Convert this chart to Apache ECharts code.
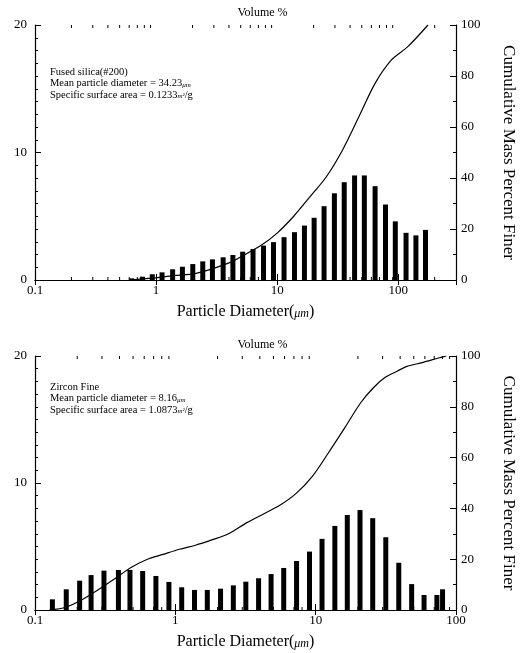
<!DOCTYPE html>
<html>
<head>
<meta charset="utf-8">
<script src="https://cdn.jsdelivr.net/npm/echarts@6/dist/echarts.min.js"></script>
<style>
  html, body { margin: 0; padding: 0; background: #fff; }
  #chart { width: 525px; height: 653px; }
</style>
</head>
<body>
<div id="chart"></div>
<script>
// fused silica (#200): diameter (um) / volume %
const topDiam = [0.63, 0.77, 0.93, 1.12, 1.37, 1.65, 2.01, 2.43, 2.92, 3.58, 4.31, 5.19, 6.32, 7.71, 9.33,
                 11.4, 13.9, 16.8, 20.2, 24.4, 29.7, 35.8, 43.6, 52.5, 64.4, 78.5, 94.6, 116, 140, 168];
const topVolume = [0.13, 0.26, 0.45, 0.6, 0.84, 1.04, 1.25, 1.46, 1.62, 1.78, 1.96, 2.22, 2.43, 2.7, 2.97,
                   3.36, 3.75, 4.27, 4.88, 5.79, 6.8, 7.67, 8.2, 8.2, 7.36, 5.92, 4.6, 3.7, 3.5, 3.93];
// cumulative mass percent finer
const topCumDiam = [0.62, 0.93, 1.39, 2.14, 3.95, 5.42, 7.43, 10, 13.7, 18.7, 25.5, 34.7, 47.3, 64.4, 87.9, 120, 176];
const topCum = [0, 0.7, 1.7, 2.6, 6.6, 10, 13.7, 18.4, 25, 32.7, 40.5, 51, 64, 77.1, 86.3, 91.5, 100];

// zircon fine
const botDiam = [0.133, 0.167, 0.208, 0.251, 0.31, 0.393, 0.475, 0.585, 0.727, 0.9, 1.11, 1.37, 1.69, 2.1, 2.59, 3.18,
                 3.92, 4.81, 5.92, 7.31, 9.04, 11.1, 13.7, 16.8, 20.7, 25.5, 31.6, 39.1, 48.3, 59.2, 73.1, 80.2];
const botVolume = [0.84, 1.63, 2.31, 2.75, 3.1, 3.15, 3.15, 3.07, 2.68, 2.21, 1.79, 1.58, 1.58, 1.68, 1.94, 2.23,
                   2.5, 2.83, 3.31, 3.86, 4.6, 5.6, 6.62, 7.48, 7.87, 7.23, 5.73, 3.72, 2.04, 1.18, 1.18, 1.63];
const botCumDiam = [0.127, 0.166, 0.216, 0.282, 0.368, 0.48, 0.627, 0.818, 1.07, 1.39, 1.82, 2.37, 3.26, 4.25,
                    5.55, 7.23, 9.44, 12.3, 16.1, 21.0, 25.9, 31.3, 38, 44.2, 57.5, 75.2, 85.3];
const botCum = [0, 1.1, 4.0, 8.0, 12.2, 16.6, 19.9, 21.9, 23.9, 25.5, 27.6, 29.9, 34.5, 37.8,
                41.2, 45.8, 52.5, 61.8, 71.7, 81.7, 87.6, 91.6, 94.0, 95.8, 97.4, 99.2, 100];

const xTicks = ['0.1', '1', '10', '100'];

const serif = 'Liberation Serif';
const black = '#000';

function pairs(xs, ys) {
  return xs.map((x, i) => [x, ys[i]]);
}

// log minor tick positions (2..9 x 10^k) inside an axis range
function minorTicks(min, max) {
  let out = [];
  for (let e = -1; e <= 2; e++) {
    for (let k = 2; k <= 9; k++) {
      let v = k * Math.pow(10, e);
      if (v > min && v < max) out.push([v, 0]);
    }
  }
  return out;
}

function logLabel(v) {
  let l = Math.log10(v);
  if (Math.abs(l - Math.round(l)) > 1e-6) return '';
  let s = String(+v.toPrecision(3));
  return xTicks.indexOf(s) >= 0 ? s : '';
}

function xAxes(grid, max) {
  return [
    {
      gridIndex: grid, type: 'log', logBase: 10, min: 0.1, max: max, position: 'bottom',
      name: '{t|Particle Diameter(}{u|μm}{t|)}', nameLocation: 'middle', nameGap: 24,
      nameTextStyle: { rich: {
        t: { fontFamily: serif, fontSize: 16, color: black },
        u: { fontFamily: serif, fontSize: 12, fontStyle: 'italic', color: black, padding: [4, 0, 0, 0] }
      } },
      axisLine: { lineStyle: { color: black, width: 1.2 } },
      axisTick: { inside: true, length: 6, lineStyle: { color: black } },
      axisLabel: { formatter: logLabel, color: black, fontFamily: serif, fontSize: 13, margin: 4, showMaxLabel: max === 100 },
      splitLine: { show: false }
    },
    {
      gridIndex: grid, type: 'log', logBase: 10, min: 0.1, max: max, position: 'top',
      axisLine: { lineStyle: { color: black, width: 1.2 } },
      axisTick: { inside: true, length: 5, lineStyle: { color: black } },
      axisLabel: { show: false },
      splitLine: { show: false }
    }
  ];
}

function yAxes(grid) {
  return [
    {
      gridIndex: grid, type: 'value', min: 0, max: 20, interval: 10, position: 'left',
      axisLine: { show: true, lineStyle: { color: black, width: 1.2 } },
      axisTick: { show: true, inside: true, length: 6, lineStyle: { color: black } },
      minorTick: { show: true, splitNumber: 10, length: 3, lineStyle: { color: black } },
      axisLabel: { color: black, fontFamily: serif, fontSize: 13, margin: 8 },
      splitLine: { show: false }
    },
    {
      gridIndex: grid, type: 'value', min: 0, max: 100, interval: 20, position: 'right',
      name: 'Cumulative Mass Percent Finer', nameLocation: 'middle', nameRotate: -90, nameGap: 44,
      nameTextStyle: { fontFamily: serif, fontSize: 17, color: black },
      axisLine: { show: true, lineStyle: { color: black, width: 1.2 } },
      axisTick: { show: true, inside: true, length: 6, lineStyle: { color: black } },
      minorTick: { show: true, splitNumber: 2, length: 3, lineStyle: { color: black } },
      axisLabel: { color: black, fontFamily: serif, fontSize: 13, margin: 5 },
      splitLine: { show: false }
    }
  ];
}

function minorSeries(grid, max) {
  return {
    type: 'custom',
    xAxisIndex: grid * 2, yAxisIndex: grid * 2,
    data: minorTicks(0.1, max),
    silent: true,
    renderItem: function (params, api) {
      let x = api.value(0);
      let b = api.coord([x, 0]);
      let t = api.coord([x, 20]);
      let st = { stroke: black, lineWidth: 1 };
      return {
        type: 'group',
        children: [
          { type: 'line', shape: { x1: b[0], y1: b[1], x2: b[0], y2: b[1] - 3 }, style: st },
          { type: 'line', shape: { x1: t[0], y1: t[1], x2: t[0], y2: t[1] + 3 }, style: st }
        ]
      };
    }
  };
}

function barSeries(grid, xs, ys) {
  return {
    type: 'bar',
    xAxisIndex: grid * 2, yAxisIndex: grid * 2,
    data: pairs(xs, ys),
    barWidth: 5,
    itemStyle: { color: black },
    silent: true
  };
}

function cumSeries(grid, xs, ys) {
  return {
    type: 'line',
    xAxisIndex: grid * 2, yAxisIndex: grid * 2 + 1,
    data: pairs(xs, ys),
    smooth: 0.3,
    showSymbol: false,
    lineStyle: { color: black, width: 1.2 },
    silent: true
  };
}

function infoText(top, lines) {
  return {
    type: 'text', left: 50, top: top,
    style: {
      text: lines.join('\n'),
      fontFamily: serif, fontSize: 10.5, lineHeight: 11.5, fill: black,
      rich: {
        u: { fontFamily: serif, fontSize: 7, fontStyle: 'italic', fill: black, padding: [3, 0, 0, 0] }
      }
    }
  };
}

let chart = echarts.init(document.getElementById('chart'));
let option = {
  backgroundColor: '#fff',
  animation: false,
  title: [
    { text: 'Volume %', left: 'center', top: 2, textStyle: { fontFamily: serif, fontSize: 12, fontWeight: 'normal', color: black } },
    { text: 'Volume %', left: 'center', top: 334, textStyle: { fontFamily: serif, fontSize: 12, fontWeight: 'normal', color: black } }
  ],
  grid: [
    { left: 35, top: 25, width: 432, height: 255 },
    { left: 35, top: 356, width: 433, height: 254 }
  ],
  xAxis: xAxes(0, 300).concat(xAxes(1, 100)),
  yAxis: yAxes(0).concat(yAxes(1)),
  series: [
    minorSeries(0, 300),
    barSeries(0, topDiam, topVolume),
    cumSeries(0, topCumDiam, topCum),
    minorSeries(1, 100),
    barSeries(1, botDiam, botVolume),
    cumSeries(1, botCumDiam, botCum)
  ],
  graphic: [
    infoText(66, ['Fused silica(#200)', 'Mean particle diameter = 34.23{u|μm}', 'Specific surface area = 0.1233{u|m²}/g']),
    infoText(381, ['Zircon Fine', 'Mean particle diameter = 8.16{u|μm}', 'Specific surface area = 1.0873{u|m²}/g'])
  ]
};
chart.setOption(option);
</script>
</body>
</html>
